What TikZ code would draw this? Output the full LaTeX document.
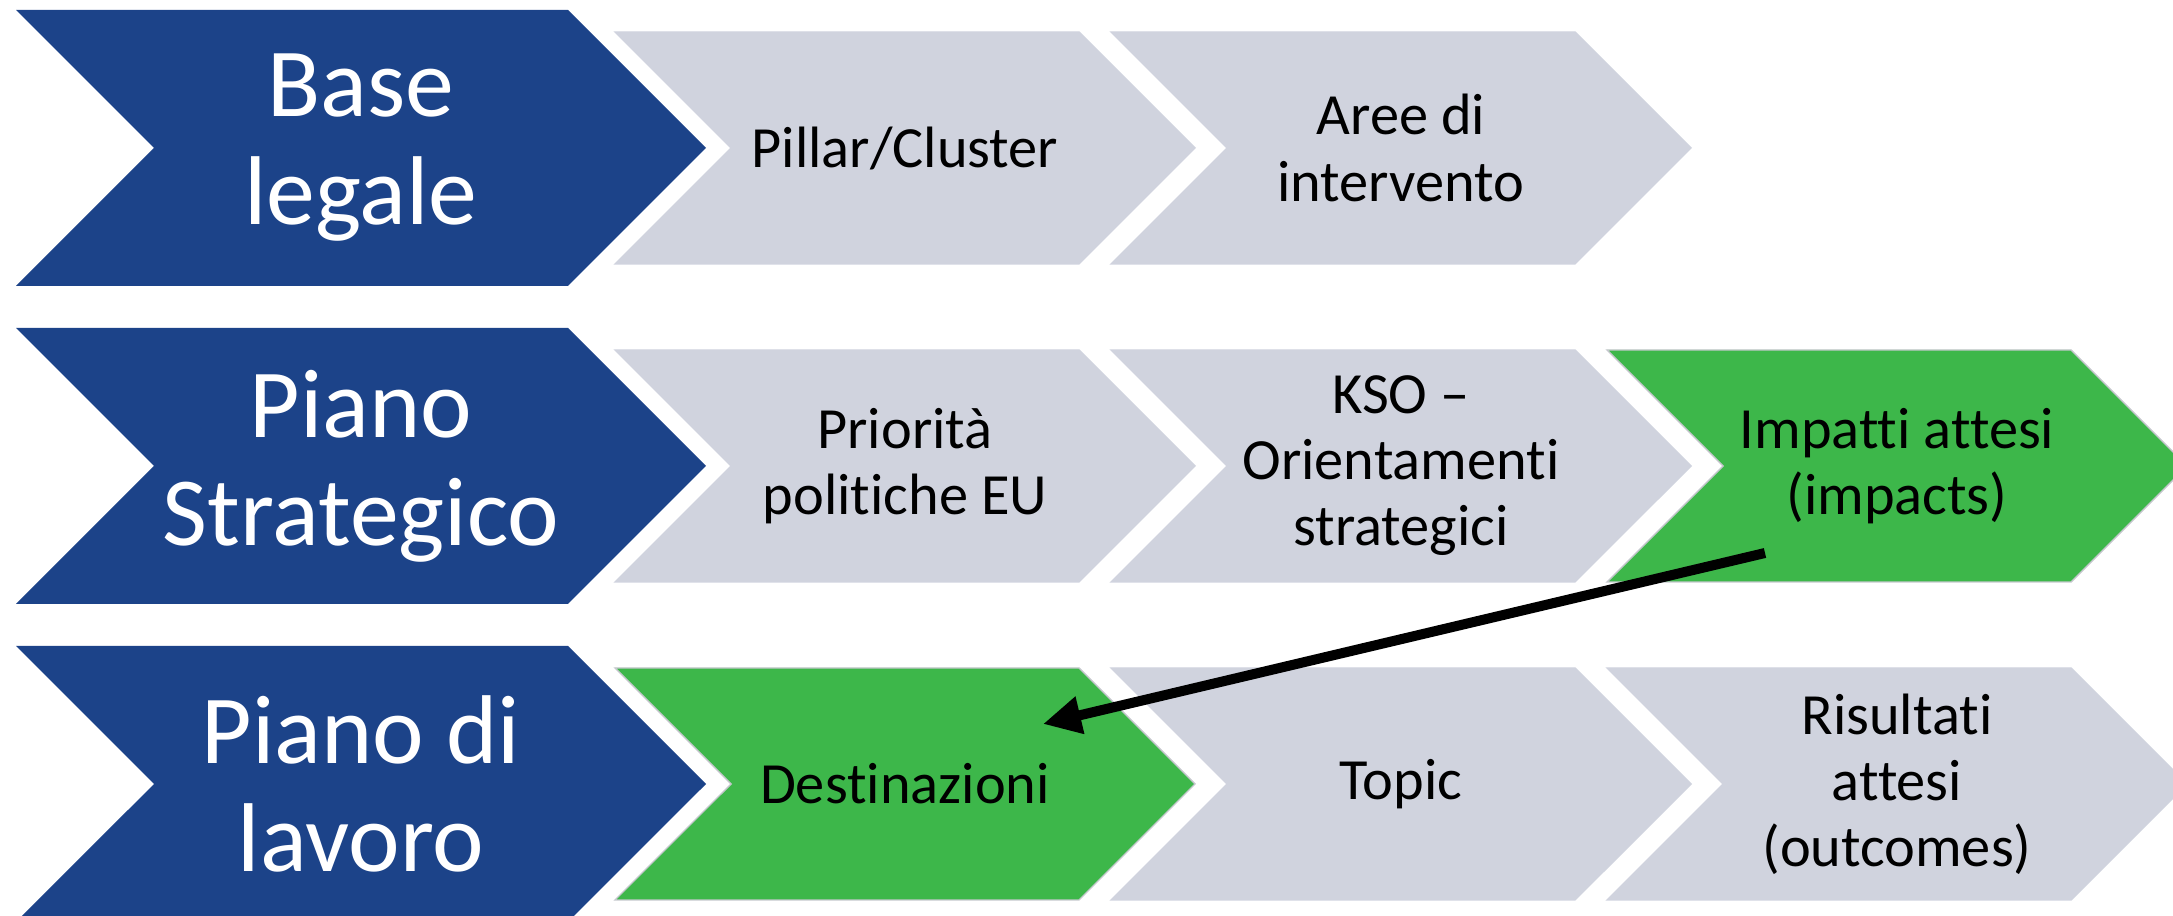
\documentclass[tikz,border=0pt]{standalone}
\usepackage{fontspec}
\setmainfont[Ligatures=NoCommon]{Carlito}
\usepackage{tikz}
\usetikzlibrary{
  arrows.meta,
  positioning,
  shapes.symbols,
}
\definecolor{levelblue}{HTML}{1C4389}
\definecolor{stepgray}{HTML}{D0D3DE}
\definecolor{stepgreen}{HTML}{3DB74A}
\definecolor{stepedge}{HTML}{C4C7CC}

\begin{document}
\begin{tikzpicture}[
    chevron/.style={signal, signal from=west, signal to=east,
                    signal pointer angle=90, inner sep=0pt, align=center},
    level/.style={chevron, fill=levelblue, text=white,
                  minimum width=6.9cm, minimum height=2.76cm,
                  font=\fontsize{27.8}{30.7}\selectfont},
    stage/.style={chevron, fill=stepgray, draw=stepgray, line width=0.4pt,
                  minimum width=5.8cm, minimum height=2.32cm,
                  font=\fontsize{16.6}{18.8}\selectfont},
    hit/.style={stage, fill=stepgreen, draw=stepedge},
  ]
  \useasboundingbox (0,0) rectangle (21.73,-9.16);

  % livelli
  \node[level] (base)  at (3.61,-1.48) {Base\\legale};
  \node[level] (piano) at (3.61,-4.66) {Piano\\Strategico};
  \node[level] (lav)   at (3.61,-7.84) {Piano di\\lavoro};

  % base legale
  \node[stage] (pil)  at (9.05,-1.48)  {Pillar/Cluster};
  \node[stage] (aree) at (14.01,-1.48) {Aree di\\intervento};

  % piano strategico
  \node[stage] (prio) at (9.05,-4.66)  {Priorità\\politiche EU};
  \node[stage] (kso)  at (14.01,-4.66) {KSO --\\Orientamenti\\strategici};
  \node[hit]   (imp)  at (18.97,-4.66) {Impatti attesi\\(impacts)};

  % piano di lavoro
  \node[hit]   (dst)  at (9.05,-7.84)  {Destinazioni};
  \node[stage] (top)  at (14.01,-7.84) {Topic};
  \node[stage] (ris)  at (18.97,-7.84) {Risultati\\attesi\\(outcomes)};

  \draw[-{Triangle[length=0.38cm,width=0.36cm]}, line width=0.1cm]
    ([shift={(-1.32,-0.87)}]imp.center) -- ([shift={(1.38,0.6)}]dst.center);
\end{tikzpicture}
\end{document}
